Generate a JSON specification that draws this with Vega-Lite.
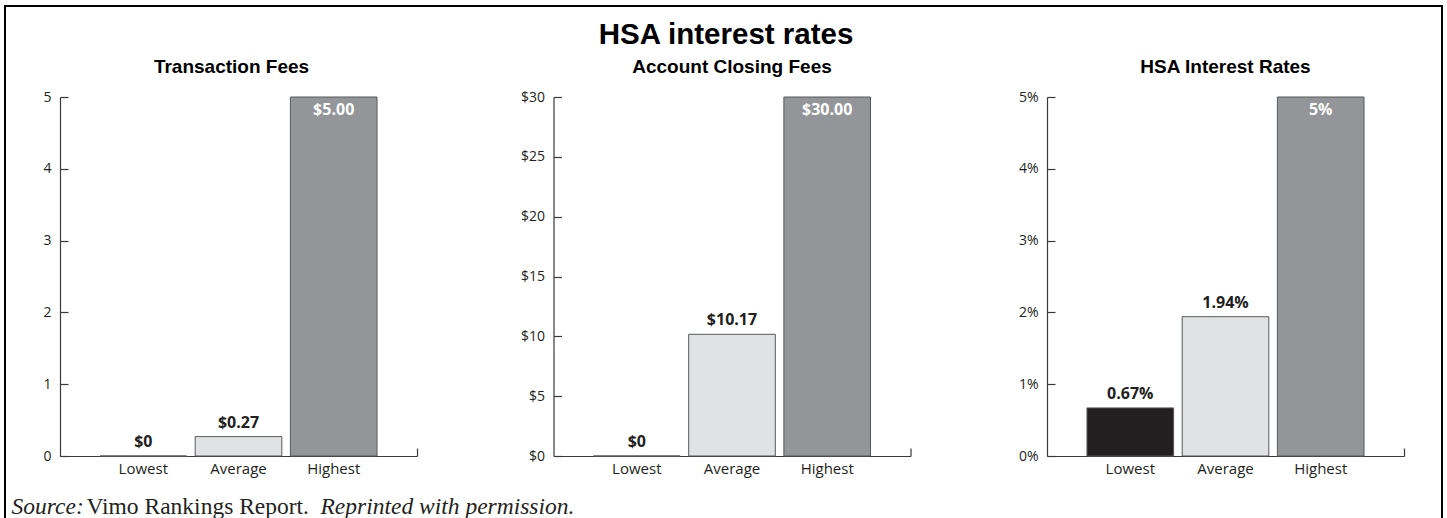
{
  "$schema": "https://vega.github.io/schema/vega-lite/v6.json",
  "background": "white",
  "padding": {"left": 5, "top": 6, "right": 2, "bottom": 0},
  "title": {"text": "HSA interest rates", "font": "Liberation Sans", "fontSize": 29.5, "fontWeight": "bold", "color": "#000000", "anchor": "middle", "dx": 2, "dy": 54, "offset": 10},
  "datasets": {
    "fees": [
      {"stat": "Lowest", "value": 0, "label": "$0"},
      {"stat": "Average", "value": 0.27, "label": "$0.27"},
      {"stat": "Highest", "value": 5, "label": "$5.00"}
    ],
    "closing": [
      {"stat": "Lowest", "value": 0, "label": "$0"},
      {"stat": "Average", "value": 10.17, "label": "$10.17"},
      {"stat": "Highest", "value": 30, "label": "$30.00"}
    ],
    "rates": [
      {"stat": "Lowest", "value": 0.67, "label": "0.67%"},
      {"stat": "Average", "value": 1.94, "label": "1.94%"},
      {"stat": "Highest", "value": 5, "label": "5%"}
    ]
  },
  "bounds": "flush",
  "spacing": 136.5,
  "hconcat": [
    {
      "width": 357, "height": 359,
      "title": {"text": "Transaction Fees", "frame": "group", "dx": -7, "dy": 84},
      "data": {"name": "fees"},
      "layer": [
        {
          "encoding": {
            "x": {"field": "stat", "type": "nominal", "scale": {"domain": ["Lowest", "Average", "Highest"], "paddingInner": 0.09, "paddingOuter": 0.42},
              "axis": {"title": "Source:", "titleX": -49, "titleY": 57, "titleAlign": "left", "titleBaseline": "alphabetic", "titleFont": "Liberation Serif", "titleFontStyle": "italic", "titleFontWeight": "normal", "titleFontSize": 23.5, "titleColor": "#231f20"}},
            "y": {"field": "value", "type": "quantitative", "scale": {"domain": [0, 5], "nice": false},
              "axis": {"values": [0, 1, 2, 3, 4, 5], "title": "Reprinted with permission.", "titleAngle": 0, "titleX": 260, "titleY": 416, "titleAlign": "left", "titleBaseline": "alphabetic", "titleFont": "Liberation Serif", "titleFontStyle": "italic", "titleFontWeight": "normal", "titleFontSize": 23.5, "titleColor": "#231f20"}}
          },
          "layer": [
            {"mark": {"type": "bar", "stroke": "#58595b", "strokeWidth": 1},
             "encoding": {"color": {"field": "stat", "type": "nominal", "scale": {"domain": ["Lowest", "Average", "Highest"], "range": ["#231f20", "#e1e2e3", "#939598"]}, "legend": null}}},
            {"transform": [{"filter": "datum.stat !== 'Highest'"}],
             "mark": {"type": "text", "baseline": "alphabetic", "dy": -9, "font": "Open Sans", "fontWeight": "bold", "fontSize": 16, "color": "#231f20"},
             "encoding": {"text": {"field": "label"}}},
            {"transform": [{"filter": "datum.stat === 'Highest'"}],
             "mark": {"type": "text", "baseline": "alphabetic", "dy": 18, "font": "Open Sans", "fontWeight": "bold", "fontSize": 16, "color": "#ffffff"},
             "encoding": {"text": {"field": "label"}}}
          ]
        },
        {
          "mark": {"type": "point", "opacity": 0},
          "encoding": {
            "x": {"datum": 1, "type": "quantitative", "scale": {"domain": [0, 1], "nice": false, "zero": false},
              "axis": {"orient": "bottom", "values": [1], "tickSize": -8, "labels": false, "domain": false, "grid": false,
                "title": "Vimo Rankings Report.", "titleX": 26, "titleY": 57, "titleAlign": "left", "titleBaseline": "alphabetic", "titleFont": "Liberation Serif", "titleFontStyle": "normal", "titleFontWeight": "normal", "titleFontSize": 23.5, "titleColor": "#231f20"}},
            "color": {"field": "value", "type": "quantitative", "scale": {"range": ["rgba(255,255,255,0)", "rgba(255,255,255,0)"]},
              "legend": {"orient": "none", "legendX": -55, "legendY": -91, "direction": "horizontal", "title": null, "labels": false, "ticks": false, "padding": 0,
                "gradientLength": 1437, "gradientThickness": 516, "gradientStrokeColor": "#000000", "gradientStrokeWidth": 2}}
          }
        }
      ],
      "resolve": {"scale": {"x": "independent", "color": "independent"}, "axis": {"x": "independent"}}
    },
    {
      "width": 357, "height": 359,
      "title": {"text": "Account Closing Fees"},
      "data": {"name": "closing"},
      "layer": [
        {
          "encoding": {
            "x": {"field": "stat", "type": "nominal", "scale": {"domain": ["Lowest", "Average", "Highest"], "paddingInner": 0.09, "paddingOuter": 0.42}, "axis": {"title": null}},
            "y": {"field": "value", "type": "quantitative", "scale": {"domain": [0, 30], "nice": false},
              "axis": {"values": [0, 5, 10, 15, 20, 25, 30], "labelExpr": "'$' + datum.value", "title": null}}
          },
          "layer": [
            {"mark": {"type": "bar", "stroke": "#58595b", "strokeWidth": 1},
             "encoding": {"color": {"field": "stat", "type": "nominal", "scale": {"domain": ["Lowest", "Average", "Highest"], "range": ["#231f20", "#e1e2e3", "#939598"]}, "legend": null}}},
            {"transform": [{"filter": "datum.stat !== 'Highest'"}],
             "mark": {"type": "text", "baseline": "alphabetic", "dy": -9, "font": "Open Sans", "fontWeight": "bold", "fontSize": 16, "color": "#231f20"},
             "encoding": {"text": {"field": "label"}}},
            {"transform": [{"filter": "datum.stat === 'Highest'"}],
             "mark": {"type": "text", "baseline": "alphabetic", "dy": 18, "font": "Open Sans", "fontWeight": "bold", "fontSize": 16, "color": "#ffffff"},
             "encoding": {"text": {"field": "label"}}}
          ]
        },
        {
          "mark": {"type": "point", "opacity": 0},
          "encoding": {"x": {"datum": 1, "type": "quantitative", "scale": {"domain": [0, 1], "nice": false, "zero": false},
            "axis": {"orient": "bottom", "values": [1], "tickSize": -8, "labels": false, "domain": false, "grid": false, "title": null}}}
        }
      ],
      "resolve": {"scale": {"x": "independent"}, "axis": {"x": "independent"}}
    },
    {
      "width": 357, "height": 359,
      "title": {"text": "HSA Interest Rates"},
      "data": {"name": "rates"},
      "layer": [
        {
          "encoding": {
            "x": {"field": "stat", "type": "nominal", "scale": {"domain": ["Lowest", "Average", "Highest"], "paddingInner": 0.09, "paddingOuter": 0.42}, "axis": {"title": null}},
            "y": {"field": "value", "type": "quantitative", "scale": {"domain": [0, 5], "nice": false},
              "axis": {"values": [0, 1, 2, 3, 4, 5], "labelExpr": "datum.value + '%'", "title": null}}
          },
          "layer": [
            {"mark": {"type": "bar", "stroke": "#58595b", "strokeWidth": 1},
             "encoding": {"color": {"field": "stat", "type": "nominal", "scale": {"domain": ["Lowest", "Average", "Highest"], "range": ["#231f20", "#e1e2e3", "#939598"]}, "legend": null}}},
            {"transform": [{"filter": "datum.stat !== 'Highest'"}],
             "mark": {"type": "text", "baseline": "alphabetic", "dy": -9, "font": "Open Sans", "fontWeight": "bold", "fontSize": 16, "color": "#231f20"},
             "encoding": {"text": {"field": "label"}}},
            {"transform": [{"filter": "datum.stat === 'Highest'"}],
             "mark": {"type": "text", "baseline": "alphabetic", "dy": 18, "font": "Open Sans", "fontWeight": "bold", "fontSize": 16, "color": "#ffffff"},
             "encoding": {"text": {"field": "label"}}}
          ]
        },
        {
          "mark": {"type": "point", "opacity": 0},
          "encoding": {"x": {"datum": 1, "type": "quantitative", "scale": {"domain": [0, 1], "nice": false, "zero": false},
            "axis": {"orient": "bottom", "values": [1], "tickSize": -8, "labels": false, "domain": false, "grid": false, "title": null}}}
        }
      ],
      "resolve": {"scale": {"x": "independent"}, "axis": {"x": "independent"}}
    }
  ],
  "config": {
    "view": {"stroke": null},
    "title": {"font": "Liberation Sans", "fontSize": 19, "fontWeight": "bold", "color": "#000000", "offset": 13},
    "axis": {"domainColor": "#3a3a3c", "domainWidth": 1.2, "tickColor": "#3a3a3c", "tickWidth": 1.2, "grid": false,
      "labelFont": "Open Sans", "labelColor": "#231f20"},
    "axisY": {"tickSize": -8, "labelPadding": 17, "labelFontSize": 14},
    "axisX": {"labelAngle": 0, "labelFontSize": 15, "labelPadding": 5},
    "axisBand": {"ticks": false}
  }
}
